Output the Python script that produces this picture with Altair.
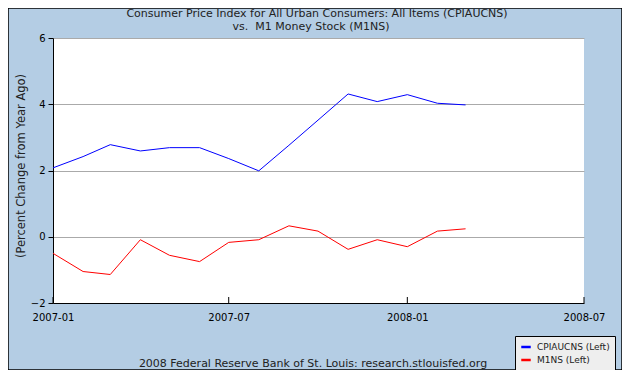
import altair as alt
import pandas as pd

months = ["2007-01-01", "2007-02-01", "2007-03-01", "2007-04-01", "2007-05-01",
          "2007-06-01", "2007-07-01", "2007-08-01", "2007-09-01", "2007-10-01",
          "2007-11-01", "2007-12-01", "2008-01-01", "2008-02-01", "2008-03-01"]
cpi = [2.08, 2.42, 2.78, 2.59, 2.69, 2.69, 2.36, 1.99, 2.76, 3.52, 4.31, 4.08, 4.29, 4.03, 3.98]
m1 = [-0.50, -1.05, -1.14, -0.09, -0.56, -0.75, -0.17, -0.09, 0.33, 0.17, -0.38, -0.09, -0.30, 0.17, 0.24]
series = ["CPIAUCNS (Left)", "M1NS (Left)"]
colors = ["#0000FF", "#FF0000"]
tick_dates = [(2007, 1), (2007, 7), (2008, 1), (2008, 7)]
y_ticks = [-2, 0, 2, 4, 6]
title1 = "Consumer Price Index for All Urban Consumers: All Items (CPIAUCNS)"
title2 = "vs.\u00a0 M1 Money Stock (M1NS)"
footer = "2008 Federal Reserve Bank of St. Louis: research.stlouisfed.org"
ytitle = "(Percent Change from Year Ago)"

W, H = 531, 265
FONT = "DejaVu Sans"
BG = "#B4CDE4"

df = pd.DataFrame({
    "date": months * 2,
    "value": cpi + m1,
    "series": [series[0]] * len(months) + [series[1]] * len(months),
})

tick_vals = [alt.DateTime(year=y, month=m, date=1, utc=True) for y, m in tick_dates]
xscale = alt.Scale(type="utc", domain=[tick_vals[0], tick_vals[-1]])
x_axis = alt.Axis(values=tick_vals, labelExpr="utcFormat(datum.value, '%Y-%m')",
                  title=None, grid=False, tickSize=0, labelPadding=9,
                  domainColor="black", labelFont=FONT, labelFontSize=10,
                  labelColor="black", labelFlush=False)

lines = alt.Chart(df).mark_line(strokeWidth=1, clip=True).encode(
    x=alt.X("date:T", scale=xscale, axis=x_axis),
    y=alt.Y("value:Q", scale=alt.Scale(domain=[-2, 6], nice=False),
            axis=alt.Axis(values=y_ticks, title=None, grid=True, gridColor="#AAAAAA",
                          tickColor="black", tickSize=5, labelPadding=3,
                          domainColor="black", labelFont=FONT, labelFontSize=10,
                          labelColor="black")),
    color=alt.Color("series:N", scale=alt.Scale(domain=series, range=colors),
                    legend=alt.Legend(title=None, orient="none", legendX=462, legendY=298,
                                      fillColor="#EEEEEE", strokeColor="black",
                                      padding=5, symbolType="stroke", symbolSize=90,
                                      symbolStrokeWidth=2.5, labelFont=FONT,
                                      labelFontSize=9, labelColor="#222222",
                                      labelOffset=5, rowPadding=2)),
)

ticks_df = pd.DataFrame({"date": [f"{y}-{m:02d}-01" for y, m in tick_dates]})
xticks = alt.Chart(ticks_df).mark_rule(color="black", strokeWidth=1).encode(
    x=alt.X("date:T", scale=xscale, axis=x_axis),
    y=alt.value(H - 6), y2=alt.value(H),
)

def txt(s, x, y, size, angle=0):
    return alt.Chart(pd.DataFrame({"t": [s]})).mark_text(
        font=FONT, fontSize=size, color="#222222", baseline="middle",
        align="center", angle=angle).encode(
        text="t:N", x=alt.value(x), y=alt.value(y))

border = alt.Chart(pd.DataFrame({"a": [0]})).mark_rect(
    fill=None, stroke="black", strokeWidth=1.5).encode(
    x=alt.value(-45), x2=alt.value(W + 38), y=alt.value(-30), y2=alt.value(H + 67))

chart = alt.layer(
    lines, xticks,
    txt(title1, 264, -24, 11), txt(title2, 258, -11, 11),
    txt(footer, 260, 326, 11), txt(ytitle, -31, 128, 11.5, angle=270),
    border,
).properties(
    width=W, height=H, background=BG,
    padding={"left": 45, "top": 30, "right": 38, "bottom": 67},
    autosize=alt.AutoSizeParams(type="none"),
).configure_view(stroke=None, fill="white")

chart.save("out.html", embed_options={"renderer": "svg", "actions": False})
